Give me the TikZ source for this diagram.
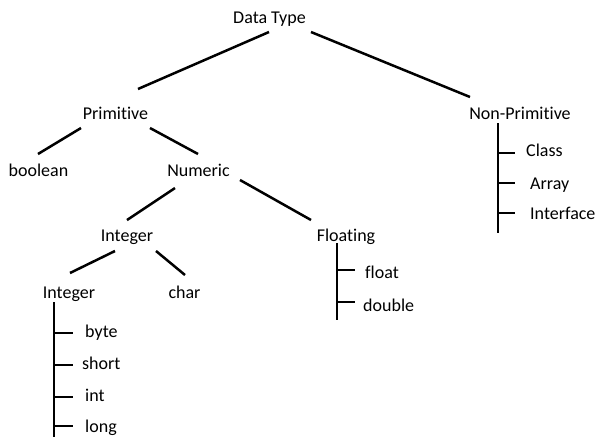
\documentclass[tikz,border=0pt]{standalone}
\usepackage{fontspec}
\setmainfont[Ligatures=NoCommon]{Carlito}
\begin{document}
\begin{tikzpicture}[x=1pt,y=-1pt,
  lbl/.style={font=\fontsize{18}{20}\selectfont, inner sep=0pt, anchor=base},
  lbll/.style={lbl, anchor=base west},
  edge/.style={line width=2.5pt, line cap=butt}]
\useasboundingbox[fill=white] (0,0) rectangle (603,437);
% labels
\node[lbl] (dt) at (269.5,23) {Data Type};
\node[lbl] (prim) at (115.5,119) {Primitive};
\node[lbl] (nonp) at (520,119) {Non-Primitive};
\node[lbl] (bool) at (38.5,176) {boolean};
\node[lbl] (num) at (198.5,176) {Numeric};
\node[lbl] (int1) at (127,241) {Integer};
\node[lbl] (flt) at (346,241) {Floating};
\node[lbl] (int2) at (69,298) {Integer};
\node[lbl] (chr) at (184.5,298) {char};
\node[lbll] (cls) at (526,156) {Class};
\node[lbll] (arr) at (530,189) {Array};
\node[lbll] (ifc) at (530,219) {Interface};
\node[lbll] (flo) at (365,278) {float};
\node[lbll] (dbl) at (363,311) {double};
\node[lbll] (byte) at (85,337) {byte};
\node[lbll] (short) at (82,369) {short};
\node[lbll] (int) at (85,401) {int};
\node[lbll] (long) at (85,432) {long};
% connector end points
\coordinate (dtL) at (269,32);  \coordinate (primT) at (138,89);
\coordinate (dtR) at (311,32);  \coordinate (nonpT) at (470,97);
\coordinate (primL) at (81,128); \coordinate (boolT) at (38,154);
\coordinate (primR) at (150,128); \coordinate (numT) at (198,154);
\coordinate (numL) at (175,188); \coordinate (int1T) at (127,220);
\coordinate (numR) at (240,180); \coordinate (fltT) at (311,220);
\coordinate (int1L) at (115,251); \coordinate (int2T) at (70,273);
\coordinate (int1R) at (156,251); \coordinate (chrT) at (185,275);
% tree branches
\draw[edge] (dtL) -- (primT);
\draw[edge] (dtR) -- (nonpT);
\draw[edge] (primL) -- (boolT);
\draw[edge] (primR) -- (numT);
\draw[edge] (numL) -- (int1T);
\draw[edge] (numR) -- (fltT);
\draw[edge] (int1L) -- (int2T);
\draw[edge] (int1R) -- (chrT);
% Non-Primitive list
\coordinate (npA) at (498,123); \coordinate (npB) at (498,233);
\draw[edge] (npA) -- (npB);
\draw[edge] (498,153) -- (515,153);
\draw[edge] (498,183) -- (515,183);
\draw[edge] (498,213) -- (515,213);
% Floating list
\coordinate (flA) at (337,243); \coordinate (flB) at (337,320);
\draw[edge] (flA) -- (flB);
\draw[edge] (337,270) -- (355,270);
\draw[edge] (337,302) -- (355,302);
% Integer list
\coordinate (inA) at (54,302); \coordinate (inB) at (54,437);
\draw[edge] (inA) -- (inB);
\draw[edge] (54,333) -- (73,333);
\draw[edge] (54,365) -- (73,365);
\draw[edge] (54,397) -- (73,397);
\draw[edge] (54,426) -- (73,426);
\end{tikzpicture}
\end{document}
